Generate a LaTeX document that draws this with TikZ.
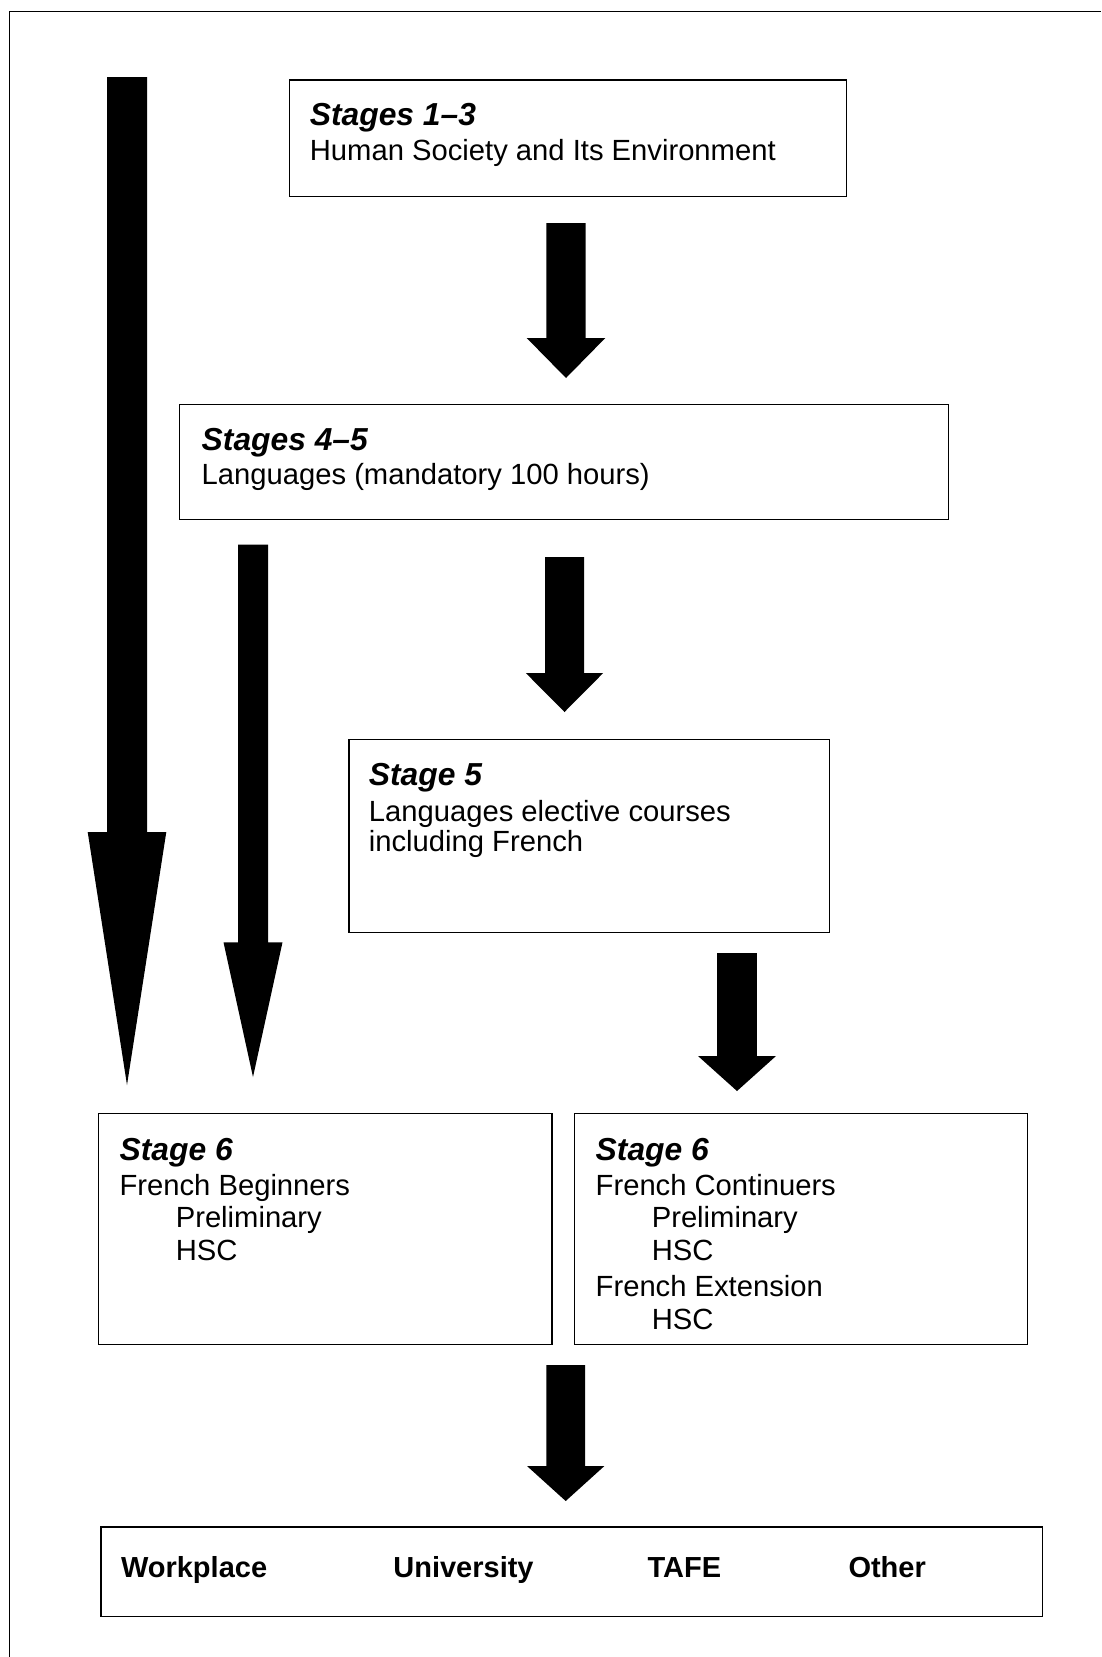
\documentclass[tikz,border=0pt]{standalone}
\usepackage{fontspec}
\setmainfont{Liberation Sans}
\newcommand\barrow[6]{\fill (#1-#2,#3) -- (#1+#2,#3) -- (#1+#2,#4) -- (#1+#5,#4) -- (#1,#6) -- (#1-#5,#4) -- (#1-#2,#4) -- cycle;}
\begin{document}
\begin{tikzpicture}[x=1pt,y=-1pt,
  box/.style={draw, line width=1.3pt, inner sep=0pt, anchor=north west},
  txt/.style={anchor=base west, inner sep=0pt, font=\fontsize{29.2}{35}\selectfont},
  head/.style={anchor=base west, inner sep=0pt, font=\fontsize{31.8}{38}\selectfont\bfseries\itshape},
  lbl/.style={anchor=base west, inner sep=0pt, font=\fontsize{29}{35}\selectfont\bfseries}]
\useasboundingbox (0,0) rectangle (1101,1657);
% outer frame (open to the right and bottom)
\draw[line width=1.2pt] (9.3,1657) -- (9.3,11.7) -- (1101,11.7);
% boxes
\node[box, minimum width=557.5pt, minimum height=116.4pt] (b1) at (288.6,79.3) {};
\node[box, minimum width=769pt, minimum height=115.4pt] (b2) at (179,403.5) {};
\node[box, minimum width=480.3pt, minimum height=193pt] (b3) at (348.3,739) {};
\node[box, minimum width=453.6pt, minimum height=231pt] (b4) at (97.6,1113) {};
\node[box, minimum width=453.1pt, minimum height=231pt] (b5) at (573.5,1113) {};
\node[box, minimum width=941.2pt, minimum height=89.7pt] (b6) at (100.3,1526.3) {};
% block arrows: cx, shaft half width, top, head start, head half width, tip
\barrow{127}{20}{77}{832}{39.3}{1085}
\barrow{253}{15}{544.6}{942.3}{29.5}{1077}
\barrow{566}{19.7}{223}{338}{39.3}{378}
\barrow{564.5}{19.5}{557}{673}{38.7}{712}
\barrow{737}{19.8}{953}{1056}{39}{1091}
\barrow{565.7}{19.4}{1365}{1466}{38.7}{1501}
% texts
\node[head] (t1a) at (309.7,125.7) {Stages 1–3};
\node[txt] (t1b) at (309.7,160.7) {Human Society and Its Environment};
\node[head] (t2a) at (201.5,450.7) {Stages 4–5};
\node[txt] (t2b) at (201.5,484.6) {Languages (mandatory 100 hours)};
\node[head] (t3a) at (368.7,785) {Stage 5};
\node[txt] (t3b) at (368.7,821.3) {Languages elective courses};
\node[txt] (t3c) at (368.7,851.9) {including French};
\node[head] (t4a) at (119.4,1160.4) {Stage 6};
\node[txt] (t4b) at (119.4,1195.2) {French Beginners};
\node[txt] (t4c) at (175.6,1227.9) {Preliminary};
\node[txt] (t4d) at (175.6,1260.6) {HSC};
\node[head] (t5a) at (595.5,1160.4) {Stage 6};
\node[txt] (t5b) at (595.5,1195.2) {French Continuers};
\node[txt] (t5c) at (651.6,1227.9) {Preliminary};
\node[txt] (t5d) at (651.6,1260.6) {HSC};
\node[txt] (t5e) at (595.5,1296) {French Extension};
\node[txt] (t5f) at (651.6,1329) {HSC};
\node[lbl] (l1) at (120.8,1577.8) {Workplace};
\node[lbl] (l2) at (393.2,1577.8) {University};
\node[lbl] (l3) at (647.4,1577.8) {TAFE};
\node[lbl] (l4) at (848.3,1577.8) {Other};
\end{tikzpicture}
\end{document}
